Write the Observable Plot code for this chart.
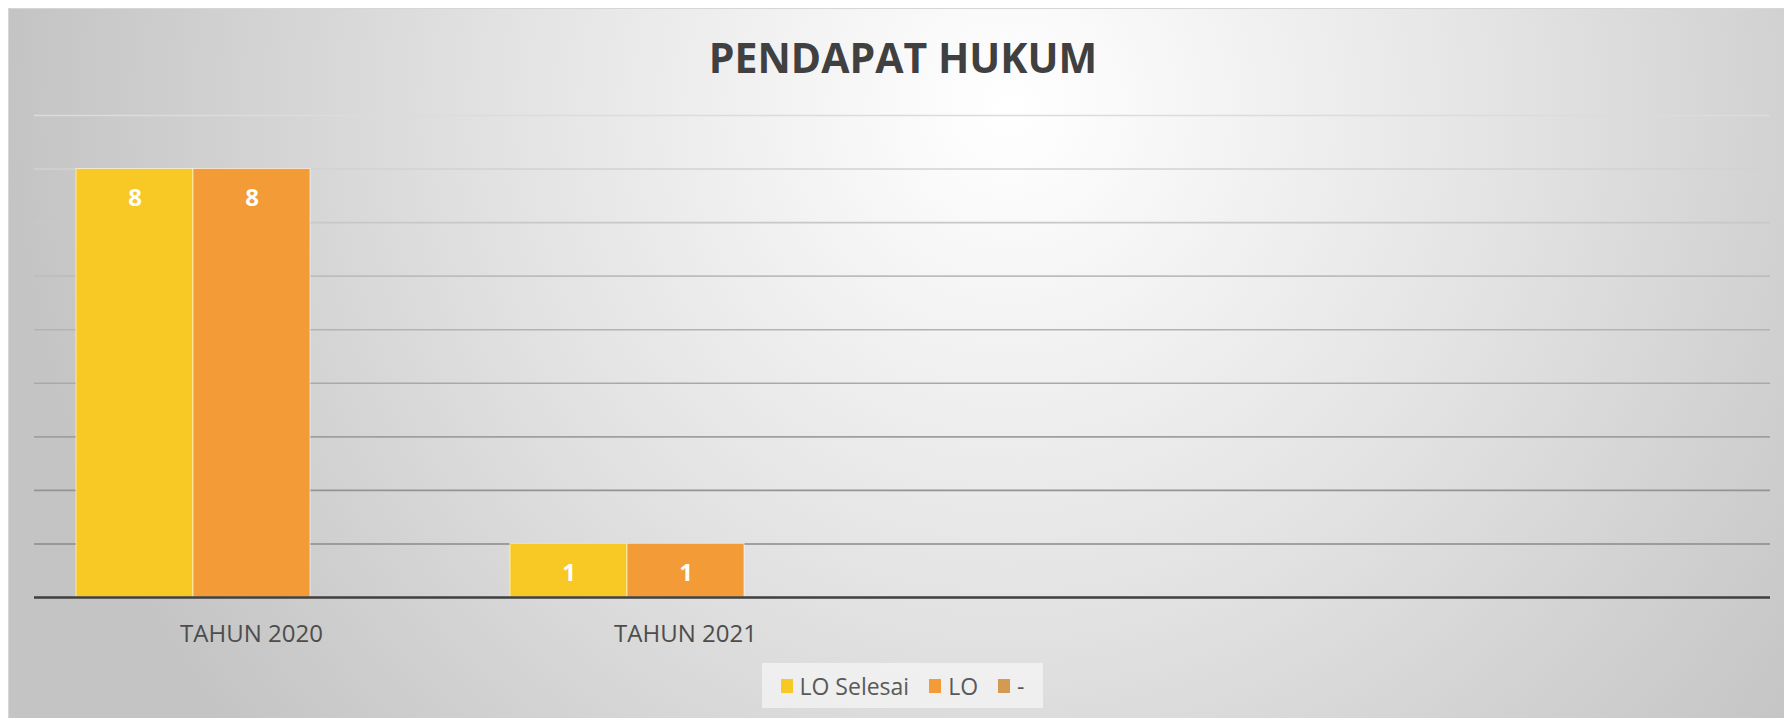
<!DOCTYPE html>
<html>
<head>
<meta charset="utf-8">
<script src="https://cdn.jsdelivr.net/npm/d3@7"></script>
<script src="https://cdn.jsdelivr.net/npm/@observablehq/plot@0.6"></script>
<style>
  html, body { margin: 0; padding: 0; background: #ffffff; }
  body { width: 1784px; height: 718px; position: relative; overflow: hidden; font-family: "Open Sans", sans-serif; }
  #frame {
    position: absolute; left: 8px; top: 8px; width: 1776px; height: 710px;
    background: radial-gradient(ellipse 1000px 1000px at 1000px 100px, #ffffff 0%, #fafafa 10%, #e3e3e3 50%, #d0d0d0 80%, #c4c4c4 100%);
    border-top: 1px solid #d6d6d6; border-left: 1px solid #d6d6d6;
  }
  #title {
    position: absolute; left: 703px; top: 36px; width: 400px; text-align: center;
    font-size: 41px; line-height: 42px; font-weight: 700; color: #404040; white-space: nowrap;
  }
  #chart { position: absolute; left: 0; top: 90px; }
  #legend {
    position: absolute; left: 762px; top: 663px; width: 281px; height: 45px;
    background: rgba(246,246,246,0.7);
    display: flex; align-items: center; justify-content: center;
    font-size: 23px; color: #595959;
  }
  .item { display: flex; align-items: center; margin: 0 10px; }
  .sw { width: 12px; height: 14px; margin-right: 7px; }
</style>
</head>
<body>
<div id="frame"></div>
<div id="title">PENDAPAT HUKUM</div>
<div id="chart"></div>
<div id="legend"></div>
<script>
// ---- data ----
const categories = ["TAHUN 2020", "TAHUN 2021", " ", "  "];
const series = ["LO Selesai", "LO", "-"];
const loSelesai = [8, 1, null, null];
const lo = [8, 1, null, null];
const dash = [null, null, null, null];
const yTicks = [1, 2, 3, 4, 5, 6, 7, 8, 9];
const seriesColors = ["#F8C824", "#F39B36", "#D59A52"];

const seriesValues = [loSelesai, lo, dash];
const table = categories.flatMap((c, i) =>
  series.map((s, j) => ({category: c, series: s, value: seriesValues[j][i]}))
);
const colorOf = new Map(series.map((s, j) => [s, seriesColors[j]]));
const gridColor = t => d3.interpolateRgb("#8a8a8a", "#dcdcdc")((t - 1) / 8);

const chart = Plot.plot({
  width: 1784,
  height: 570,
  marginLeft: 32,
  marginRight: 13,
  marginTop: 25,
  marginBottom: 63,
  facet: {data: table, x: "category"},
  fx: {domain: categories, padding: 0, axis: "bottom", tickSize: 0, tickPadding: 27, label: null, tickFormat: d => d.trim()},
  x: {domain: series, paddingInner: 0, paddingOuter: 0.348, axis: null},
  y: {domain: [0, 9], axis: null},
  style: {background: "transparent", fontFamily: "Open Sans", fontSize: "24px", color: "#4d4d4d", overflow: "visible"},
  marks: [
    ...yTicks.map(t => Plot.ruleY([t], {stroke: gridColor(t), strokeWidth: 1.6})),
    Plot.barY(table, {x: "series", y: "value", fill: d => colorOf.get(d.series), stroke: "white", strokeOpacity: 0.6, strokeWidth: 1}),
    Plot.ruleY([0], {stroke: "#3f3f3f", strokeWidth: 2.5}),
    Plot.text(table, {filter: d => d.value > 0, x: "series", y: "value", text: d => String(d.value), dy: 29, fill: "white", fontWeight: "bold", fontSize: 24})
  ]
});
document.getElementById("chart").appendChild(chart);

// legend
const legend = document.getElementById("legend");
series.forEach((s, j) => {
  const item = document.createElement("div");
  item.className = "item";
  const sw = document.createElement("span");
  sw.className = "sw";
  sw.style.background = seriesColors[j];
  const lab = document.createElement("span");
  lab.textContent = s;
  item.appendChild(sw);
  item.appendChild(lab);
  legend.appendChild(item);
});
</script>
</body>
</html>
